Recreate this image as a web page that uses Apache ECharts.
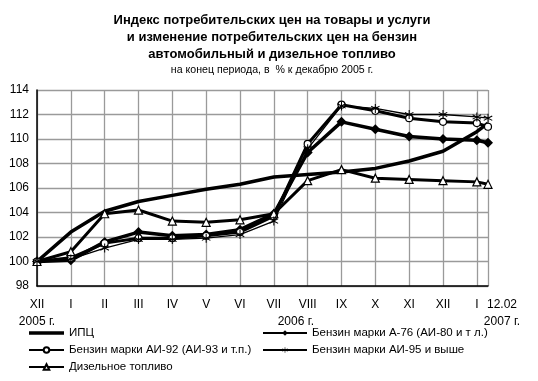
<!DOCTYPE html>
<html><head><meta charset="utf-8">
<script src="https://cdn.jsdelivr.net/npm/echarts@6/dist/echarts.min.js"></script>
<style>html,body{margin:0;padding:0;background:#fff}#c{width:538px;height:381px}</style>
</head><body><div id="c"></div>
<script>
const monthLabels = ['XII','I','II','III','IV','V','VI','VII','VIII','IX','X','XI','XII','I','12.02'];
const yearLabels = {0:'2005 г.', 7:'2006 г.', 14:'2007 г.'};
const xPos = [0,1,2,3,4,5,6,7,8,9,10,11,12,13,13.33];
const cpi    = [100,102.4,104.1,104.9,105.4,105.9,106.3,106.9,107.1,107.3,107.6,108.2,109.0,110.6,111.3];
const a76    = [100,100.1,101.6,102.4,102.1,102.2,102.6,103.9,108.9,111.4,110.8,110.2,110.0,109.9,109.7];
const ai92   = [100,100.3,101.5,101.9,101.9,102.1,102.4,103.7,109.6,112.8,112.3,111.7,111.4,111.3,111.0];
const ai95   = [100,100.2,101.1,101.8,101.8,101.9,102.2,103.3,109.2,112.7,112.5,112.0,112.0,111.8,111.7];
const diesel = [100,100.8,103.9,104.2,103.3,103.2,103.4,103.9,106.6,107.5,106.8,106.7,106.6,106.5,106.3];
const yTicks = {min:98, max:114, interval:2};
const names = ['ИПЦ','Бензин марки А-76 (АИ-80 и т л.)','Бензин марки АИ-92 (АИ-93 и т.п.)','Бензин марки АИ-95 и выше','Дизельное топливо'];

const pts = arr => arr.map((v,i)=>[xPos[i], v]);
const star = 'path://M4.5,0 L5.5,0 L5.5,4.1 L8.9,2.1 L9.4,3 L6,5 L9.4,7 L8.9,7.9 L5.5,5.9 L5.5,10 L4.5,10 L4.5,5.9 L1.1,7.9 L0.6,7 L4,5 L0.6,3 L1.1,2.1 L4.5,4.1 Z';
const barIcon = 'path://M0,0 L0.01,0 L0,0.01 Z M0,1.75 L35,1.75 L35,5.25 L0,5.25 Z M34.99,7 L35,7 L35,6.99 Z';
const lastX = xPos[xPos.length-1];
const idxOf = v => xPos.findIndex(p=>Math.abs(p-v)<0.01);

const chart = echarts.init(document.getElementById('c'), null, {renderer:'canvas'});
const font = 'Liberation Sans, Arial, sans-serif';
const axisBase = {type:'value', min:0, max:lastX, interval:1};
chart.setOption({
  animation:false,
  textStyle:{fontFamily:font, color:'#000'},
  title:[
    {text:'Индекс потребительских цен на товары и услуги\nи изменение потребительских цен на бензин\nавтомобильный и дизельное топливо',
     left:272, textAlign:'center', top:12, padding:0,
     textStyle:{fontFamily:font, fontSize:13, fontWeight:'bold', color:'#000', lineHeight:17}},
    {text:'на конец периода, в  % к декабрю 2005 г.', left:272, textAlign:'center', top:65, padding:0,
     textStyle:{fontFamily:font, fontSize:10.6, fontWeight:'normal', color:'#000'}}
  ],
  grid:{left:37, right:50, top:90, bottom:95, containLabel:false},
  xAxis:[
   Object.assign({}, axisBase, {
    axisLine:{lineStyle:{color:'#000', width:1.5}}, axisTick:{show:false},
    splitLine:{show:true, lineStyle:{color:'#9a9a9a', width:1.3}},
    axisLabel:{margin:10, fontSize:12, color:'#000', lineHeight:17, showMaxLabel:false,
      formatter:function(v){
        const i = idxOf(v);
        if(i<0 || i===xPos.length-1) return '';
        const m = monthLabels[i];
        if(i===0) return m+'\n'+yearLabels[0];
        if(i===7) return '{m|'+m+'}\n{y7|'+yearLabels[7]+'}';
        return m;
      },
      rich:{
        m:{fontSize:12, lineHeight:17},
        y7:{fontSize:12, lineHeight:17, padding:[0,0,0,44]}
      }}
   }),
   Object.assign({}, axisBase, {
    position:'bottom', axisLine:{show:false}, axisTick:{show:false}, splitLine:{show:false},
    axisLabel:{margin:10, fontSize:12, color:'#000', lineHeight:17, showMaxLabel:true, showMinLabel:false,
      formatter:function(v){
        const i = idxOf(v);
        if(i!==xPos.length-1) return '';
        return '{e|'+monthLabels[i]+'}\n{e|'+yearLabels[14]+'}';
      },
      rich:{ e:{fontSize:12, lineHeight:17, padding:[0,0,0,28]} }}
   })
  ],
  yAxis:{type:'value', min:yTicks.min, max:yTicks.max, interval:yTicks.interval,
    axisLine:{show:true, lineStyle:{color:'#000', width:1.5}}, axisTick:{show:false},
    splitLine:{lineStyle:{color:'#9a9a9a', width:1.3}},
    axisLabel:{margin:8, fontSize:12, color:'#000'}
  },
  legend:[
    {data:[{name:names[0], icon:barIcon}, names[2], names[4]], orient:'vertical', left:28, top:327, padding:0, itemWidth:35, itemHeight:7, itemGap:5, height:60,
     textStyle:{fontSize:11.5, color:'#000', fontFamily:font}},
    {data:[names[1],names[3]], orient:'vertical', left:262, top:327, padding:0, itemWidth:44, itemHeight:7, itemGap:5, height:60,
     textStyle:{fontSize:11.5, color:'#000', fontFamily:font}}
  ],
  series:[
    {name:names[0], type:'line', data:pts(cpi), symbol:'none', lineStyle:{color:'#000', width:3.5}, itemStyle:{color:'#000'}, z:2},
    {name:names[1], type:'line', data:pts(a76), symbol:'diamond', symbolSize:10, lineStyle:{color:'#000', width:3.5}, itemStyle:{color:'#000'}, z:3},
    {name:names[2], type:'line', data:pts(ai92), symbol:'circle', symbolSize:7, lineStyle:{color:'#000', width:3}, itemStyle:{color:'#fff', borderColor:'#000', borderWidth:1.2}, z:4},
    {name:names[3], type:'line', data:pts(ai95), symbol:star, symbolSize:9, lineStyle:{color:'#000', width:1.3}, itemStyle:{color:'#000'}, z:5},
    {name:names[4], type:'line', data:pts(diesel), symbol:'triangle', symbolSize:8, lineStyle:{color:'#000', width:3}, itemStyle:{color:'#fff', borderColor:'#000', borderWidth:1.2}, z:4}
  ]
});
</script></body></html>
